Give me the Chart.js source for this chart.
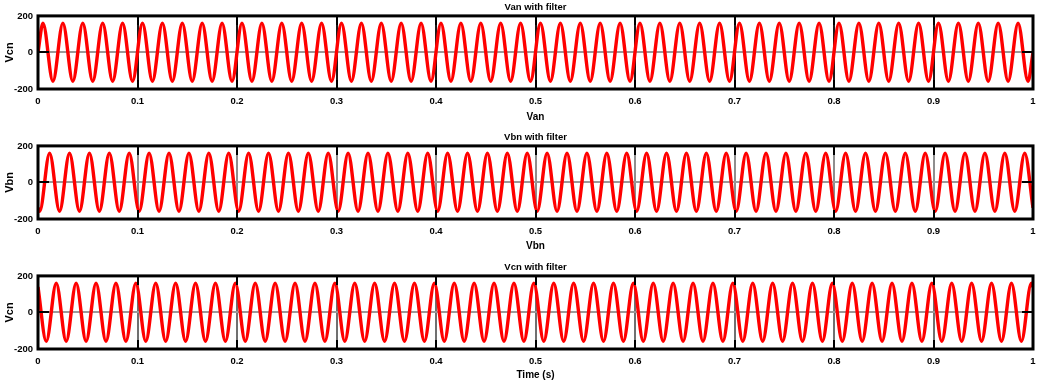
<!DOCTYPE html>
<html>
<head>
<meta charset="utf-8">
<script src="https://cdn.jsdelivr.net/npm/chart.js@4.4.1/dist/chart.umd.min.js"></script>
<style>
html,body{margin:0;padding:0;background:#fff;}
body{width:1038px;height:384px;position:relative;overflow:hidden;}
.panel{position:absolute;left:0;width:1038px;height:124px;}
canvas{display:block;}
</style>
</head>
<body>
<div class="panel" style="top:0px"><canvas id="c0" width="1038" height="124"></canvas></div>
<div class="panel" style="top:130px"><canvas id="c1" width="1038" height="124"></canvas></div>
<div class="panel" style="top:260px"><canvas id="c2" width="1038" height="124"></canvas></div>
<script>
// ---- tick labels / axis texts ----
const xTickValues = [0, 0.1, 0.2, 0.3, 0.4, 0.5, 0.6, 0.7, 0.8, 0.9, 1];
const xTickLabels = ['0', '0.1', '0.2', '0.3', '0.4', '0.5', '0.6', '0.7', '0.8', '0.9', '1'];
const yTickValues = [-200, 0, 200];
const yTickLabels = ['-200', '0', '200'];
const panelTitles = ['Van with filter', 'Vbn with filter', 'Vcn with filter'];
const yAxisLabels = ['Vcn', 'Vbn', 'Vcn'];
const xAxisLabels = ['Van', 'Vbn', 'Time (s)'];

// ---- Van: start, every peak/trough, end ----
const timeVan = [0,
0.005,0.015,0.025,0.035,0.045,0.055,0.065,0.075,0.085,0.095,
0.105,0.115,0.125,0.135,0.145,0.155,0.165,0.175,0.185,0.195,
0.205,0.215,0.225,0.235,0.245,0.255,0.265,0.275,0.285,0.295,
0.305,0.315,0.325,0.335,0.345,0.355,0.365,0.375,0.385,0.395,
0.405,0.415,0.425,0.435,0.445,0.455,0.465,0.475,0.485,0.495,
0.505,0.515,0.525,0.535,0.545,0.555,0.565,0.575,0.585,0.595,
0.605,0.615,0.625,0.635,0.645,0.655,0.665,0.675,0.685,0.695,
0.705,0.715,0.725,0.735,0.745,0.755,0.765,0.775,0.785,0.795,
0.805,0.815,0.825,0.835,0.845,0.855,0.865,0.875,0.885,0.895,
0.905,0.915,0.925,0.935,0.945,0.955,0.965,0.975,0.985,0.995,
1];
const valuesVan = [0,
160,-158,160,-158,160,-158,160,-158,160,-158,
160,-158,160,-158,160,-158,160,-158,160,-158,
160,-158,160,-158,160,-158,160,-158,160,-158,
160,-158,160,-158,160,-158,160,-158,160,-158,
160,-158,160,-158,160,-158,160,-158,160,-158,
160,-158,160,-158,160,-158,160,-158,160,-158,
160,-158,160,-158,160,-158,160,-158,160,-158,
160,-158,160,-158,160,-158,160,-158,160,-158,
160,-158,160,-158,160,-158,160,-158,160,-158,
160,-158,160,-158,160,-158,160,-158,160,-158,
0];

// ---- Vbn ----
const timeVbn = [0,
0.00167,0.01167,0.02167,0.03167,0.04167,0.05167,0.06167,0.07167,0.08167,0.09167,
0.10167,0.11167,0.12167,0.13167,0.14167,0.15167,0.16167,0.17167,0.18167,0.19167,
0.20167,0.21167,0.22167,0.23167,0.24167,0.25167,0.26167,0.27167,0.28167,0.29167,
0.30167,0.31167,0.32167,0.33167,0.34167,0.35167,0.36167,0.37167,0.38167,0.39167,
0.40167,0.41167,0.42167,0.43167,0.44167,0.45167,0.46167,0.47167,0.48167,0.49167,
0.50167,0.51167,0.52167,0.53167,0.54167,0.55167,0.56167,0.57167,0.58167,0.59167,
0.60167,0.61167,0.62167,0.63167,0.64167,0.65167,0.66167,0.67167,0.68167,0.69167,
0.70167,0.71167,0.72167,0.73167,0.74167,0.75167,0.76167,0.77167,0.78167,0.79167,
0.80167,0.81167,0.82167,0.83167,0.84167,0.85167,0.86167,0.87167,0.88167,0.89167,
0.90167,0.91167,0.92167,0.93167,0.94167,0.95167,0.96167,0.97167,0.98167,0.99167,
1];
const valuesVbn = [-139,
-158,160,-158,160,-158,160,-158,160,-158,160,
-158,160,-158,160,-158,160,-158,160,-158,160,
-158,160,-158,160,-158,160,-158,160,-158,160,
-158,160,-158,160,-158,160,-158,160,-158,160,
-158,160,-158,160,-158,160,-158,160,-158,160,
-158,160,-158,160,-158,160,-158,160,-158,160,
-158,160,-158,160,-158,160,-158,160,-158,160,
-158,160,-158,160,-158,160,-158,160,-158,160,
-158,160,-158,160,-158,160,-158,160,-158,160,
-158,160,-158,160,-158,160,-158,160,-158,160,
-139];

// ---- Vcn ----
const timeVcn = [0,
0.00833,0.01833,0.02833,0.03833,0.04833,0.05833,0.06833,0.07833,0.08833,0.09833,
0.10833,0.11833,0.12833,0.13833,0.14833,0.15833,0.16833,0.17833,0.18833,0.19833,
0.20833,0.21833,0.22833,0.23833,0.24833,0.25833,0.26833,0.27833,0.28833,0.29833,
0.30833,0.31833,0.32833,0.33833,0.34833,0.35833,0.36833,0.37833,0.38833,0.39833,
0.40833,0.41833,0.42833,0.43833,0.44833,0.45833,0.46833,0.47833,0.48833,0.49833,
0.50833,0.51833,0.52833,0.53833,0.54833,0.55833,0.56833,0.57833,0.58833,0.59833,
0.60833,0.61833,0.62833,0.63833,0.64833,0.65833,0.66833,0.67833,0.68833,0.69833,
0.70833,0.71833,0.72833,0.73833,0.74833,0.75833,0.76833,0.77833,0.78833,0.79833,
0.80833,0.81833,0.82833,0.83833,0.84833,0.85833,0.86833,0.87833,0.88833,0.89833,
0.90833,0.91833,0.92833,0.93833,0.94833,0.95833,0.96833,0.97833,0.98833,0.99833,
1];
const valuesVcn = [139,
-158,160,-158,160,-158,160,-158,160,-158,160,
-158,160,-158,160,-158,160,-158,160,-158,160,
-158,160,-158,160,-158,160,-158,160,-158,160,
-158,160,-158,160,-158,160,-158,160,-158,160,
-158,160,-158,160,-158,160,-158,160,-158,160,
-158,160,-158,160,-158,160,-158,160,-158,160,
-158,160,-158,160,-158,160,-158,160,-158,160,
-158,160,-158,160,-158,160,-158,160,-158,160,
-158,160,-158,160,-158,160,-158,160,-158,160,
-158,160,-158,160,-158,160,-158,160,-158,160,
139];

// ---- styles (not data) ----
const FONT = "'Liberation Sans', Arial, Helvetica, sans-serif";
Chart.defaults.font.family = FONT;
Chart.defaults.color = '#000';
const panelStyles = [
  { canvas: 'c0', gridColor: '#1c1c1c', xTitlePad: 1 },
  { canvas: 'c1', gridColor: '#8e8e8e', xTitlePad: 2 },
  { canvas: 'c2', gridColor: '#707070', xTitlePad: 3 }
];
const series = [
  { t: timeVan, v: valuesVan },
  { t: timeVbn, v: valuesVbn },
  { t: timeVcn, v: valuesVcn }
];

const matlabBox = {
  id: 'matlabBox',
  afterDatasetsDraw(chart) {
    const { ctx, chartArea: a, scales: { x, y } } = chart;
    const L = 9;
    ctx.save();
    ctx.strokeStyle = '#000';
    ctx.lineWidth = 2;
    ctx.beginPath();
    x.ticks.forEach(t => {
      const px = Math.round(x.getPixelForValue(t.value));
      ctx.moveTo(px, a.bottom); ctx.lineTo(px, a.bottom - L);
      ctx.moveTo(px, a.top); ctx.lineTo(px, a.top + L);
    });
    y.ticks.forEach(t => {
      const py = Math.round(y.getPixelForValue(t.value));
      ctx.moveTo(a.left, py); ctx.lineTo(a.left + L + 2, py);
      ctx.moveTo(a.right, py); ctx.lineTo(a.right - L - 2, py);
    });
    ctx.stroke();
    ctx.lineWidth = 3;
    ctx.strokeRect(a.left, a.top, a.right - a.left, a.bottom - a.top);
    ctx.restore();
  }
};

panelStyles.forEach((st, i) => {
  const s = series[i];
  const pts = s.t.map((t, k) => ({ x: t, y: s.v[k] }));
  new Chart(document.getElementById(st.canvas), {
    type: 'line',
    data: {
      datasets: [{
        data: pts,
        borderColor: '#ff0000',
        borderWidth: 3.4,
        pointRadius: 0,
        fill: false,
        tension: 0.4,
        cubicInterpolationMode: 'monotone'
      }]
    },
    options: {
      responsive: false,
      animation: false,
      devicePixelRatio: 1,
      events: [],
      layout: { padding: { top: 0.5, right: 5, bottom: 0, left: 0 } },
      plugins: {
        legend: { display: false },
        tooltip: { enabled: false },
        title: {
          display: true,
          text: panelTitles[i],
          fullSize: false,
          color: '#000',
          font: { size: 9.5, weight: 'bold', family: FONT },
          padding: { top: 1, bottom: 3 }
        }
      },
      scales: {
        x: {
          type: 'linear',
          min: 0, max: 1,
          afterBuildTicks: sc => { sc.ticks = xTickValues.map(v => ({ value: v })); },
          afterFit: sc => { sc.height = 35; sc.paddingLeft = 3; sc.paddingRight = 3; },
          ticks: {
            autoSkip: false, maxRotation: 0, minRotation: 0, padding: 7,
            color: '#000',
            font: { size: 9.5, weight: 'bold', family: FONT },
            callback: (v, idx) => xTickLabels[idx]
          },
          grid: { drawTicks: false, color: st.gridColor, lineWidth: 2 },
          border: { display: false },
          title: {
            display: true, text: xAxisLabels[i], color: '#000',
            font: { size: 10, weight: 'bold', family: FONT },
            padding: { top: 0, bottom: st.xTitlePad }
          }
        },
        y: {
          min: -200, max: 200,
          afterBuildTicks: sc => { sc.ticks = yTickValues.map(v => ({ value: v })); },
          afterFit: sc => { sc.width = 38; },
          ticks: {
            padding: 5, color: '#000',
            font: { size: 9.5, weight: 'bold', family: FONT },
            callback: (v, idx) => yTickLabels[idx]
          },
          grid: { drawTicks: false, color: '#9a9a9a', lineWidth: 2 },
          border: { display: false },
          title: {
            display: true, text: yAxisLabels[i], color: '#000',
            font: { size: 11, weight: 'bold', family: FONT },
            padding: { top: 3.5, bottom: 0 }
          }
        }
      }
    },
    plugins: [matlabBox]
  });
});
</script>
</body>
</html>
